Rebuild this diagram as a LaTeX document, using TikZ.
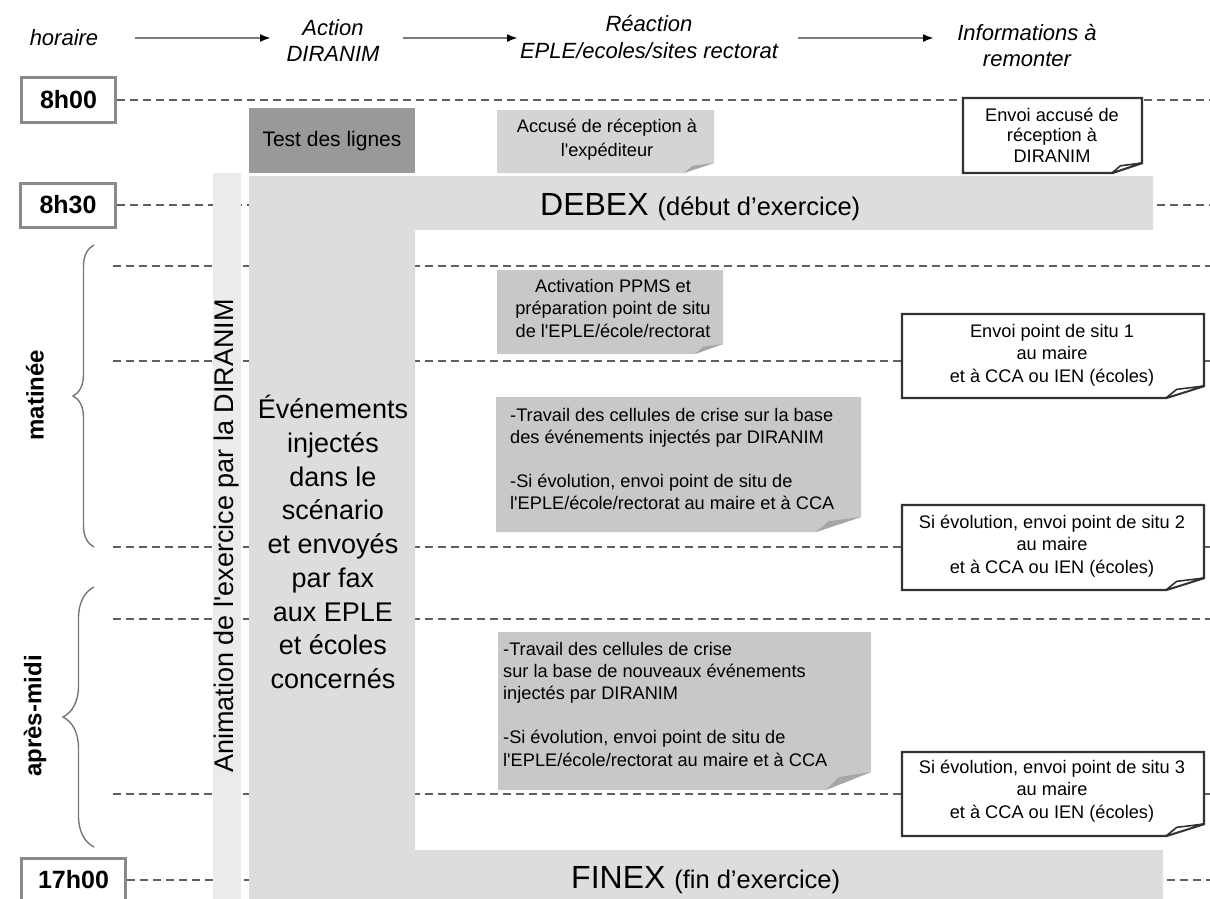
\documentclass[tikz,border=0pt]{standalone}
\usepackage{fontspec}
\newfontfamily\arial{Liberation Sans}
\usetikzlibrary{arrows.meta,decorations.pathreplacing}
\definecolor{barA}{HTML}{DDDDDD}
\definecolor{barB}{HTML}{EBEBEB}
\definecolor{boxG}{HTML}{C8C8C8}
\definecolor{boxL}{HTML}{D4D4D4}
\definecolor{boxD}{HTML}{999999}
\definecolor{dashc}{HTML}{5F5F5F}
\definecolor{foldc}{HTML}{A6A6A6}
\definecolor{tgray}{HTML}{8A8A8A}
\definecolor{arrgray}{HTML}{7A7A7A}
\definecolor{bracec}{HTML}{777777}
% folded-corner box: #1 box style, #2 flap style, #3 x1, #4 y1, #5 x2, #6 y2, #7 fold width, #8 fold height
\newcommand\pfold[8]{%
  \path[#1] (#3,#4) -- (#5,#4) -- (#5,#6-#8) -- (#5-#7,#6) -- (#3,#6) -- cycle;
  \path[#2] (#5-#7,#6) -- (#5-0.72*#7,#6-0.72*#8) -- (#5,#6-#8) -- cycle;
}
\tikzset{
  hdr/.style={align=center, inner sep=0pt, font=\arial\itshape\fontsize{22}{26.5}\selectfont},
  timer/.style={draw=tgray, line width=3pt, fill=white, minimum height=44pt, inner sep=0pt,
    font=\arial\bfseries\fontsize{25}{30}\selectfont},
  dl/.style={draw=dashc, line width=1.2pt, dash pattern=on 8pt off 5pt},
  hdrarrow/.style={draw=arrgray, line width=2pt, -{Latex[length=11pt,width=8pt,color=black]}},
  boxtxt/.style={align=center, inner sep=0pt, font=\arial\fontsize{18.2}{22.5}\selectfont},
  boxtxtl/.style={align=left, inner sep=0pt, anchor=west, font=\arial\fontsize{18.2}{22.2}\selectfont},
  graybox/.style={fill=boxG},
  grayflap/.style={fill=foldc},
  whitebox/.style={fill=white, draw=black!80, line width=2.4pt, line join=miter},
  whiteflap/.style={fill=white, draw=black!80, line width=1.6pt, line join=round},
  bracestyle/.style={draw=bracec, line width=1.4pt, decorate, decoration={brace, amplitude=#1, aspect=0.5}},
  sidelabel/.style={rotate=90, inner sep=0pt, font=\arial\bfseries\fontsize{24}{28}\selectfont},
}
\begin{document}
\begin{tikzpicture}[x=1pt,y=-1pt]
\useasboundingbox (0,0) rectangle (1210,899);
\coordinate (R) at (1212,0);

% header
\node[hdr] (horaire) at (64,38) {horaire};
\node[hdr] (action) at (333,40.5) {Action\\DIRANIM};
\node[hdr] (reaction) at (649,37) {Réaction\\EPLE/ecoles/sites rectorat};
\node[hdr] (infos) at (1027,45.5) {Informations à\\remonter};
\coordinate (a1s) at (135,38); \coordinate (a1e) at (271,38);
\coordinate (a2s) at (403,38); \coordinate (a2e) at (518,38);
\coordinate (a3s) at (798,38); \coordinate (a3e) at (934,38);
\draw[hdrarrow] (a1s) -- (a1e);
\draw[hdrarrow] (a2s) -- (a2e);
\draw[hdrarrow] (a3s) -- (a3e);

% time boxes
\node[timer, minimum width=94pt] (t800) at (68.5,100) {8h00};
\node[timer, minimum width=95pt] (t830) at (68,205) {8h30};
\node[timer, minimum width=104pt] (t1700) at (73.5,880) {17h00};

% dashed lines
\draw[dl] (t800.east) -- (t800.east -| R);
\draw[dl] (t830.east) -- (t830.east -| R);
\draw[dl] (t1700.east) -- (t1700.east -| R);
\coordinate (m1) at (113,266);
\coordinate (m2) at (113,361);
\coordinate (m3) at (113,547);
\coordinate (m4) at (113,619);
\coordinate (m5) at (113,794);
\foreach \m in {m1,m2,m3,m4,m5} \draw[dl] (\m) -- (\m -| R);

% braces
\coordinate (b1s) at (94,547); \coordinate (b1e) at (94,245);
\coordinate (b2s) at (94,847); \coordinate (b2e) at (94,587);
\draw[bracestyle=21pt] (b1s) -- (b1e);
\draw[bracestyle=31pt] (b2s) -- (b2e);
\node[sidelabel] (matinee) at (35,395) {matinée};
\node[sidelabel] (apres) at (35,716) {après-midi};

% big bars
\fill[barA] (249,176) -- (1153,176) -- (1153,230) -- (415,230) -- (415,850)
  -- (1163,850) -- (1163,899) -- (249,899) -- cycle;
\fill[barB] (213,173) rectangle (241,899);
\fill[boxD] (249,108) rectangle (415,173);

% gray boxes
\pfold{fill=boxL}{grayflap}{497}{110}{714}{173}{30}{10}
\pfold{graybox}{grayflap}{497}{270}{723}{354}{28}{10}
\pfold{graybox}{grayflap}{496}{397}{861}{532}{45}{15}
\pfold{graybox}{grayflap}{498}{632}{871}{790}{45}{18}

% white boxes
\pfold{whitebox}{whiteflap}{963}{98}{1142}{173}{30}{10}
\pfold{whitebox}{whiteflap}{902}{314}{1204}{398}{38}{12}
\pfold{whitebox}{whiteflap}{902}{505}{1204}{590}{38}{12}
\pfold{whitebox}{whiteflap}{902}{752}{1204}{836}{38}{12}

% texts
\node[inner sep=0pt, font=\arial\fontsize{21}{25}\selectfont] (test) at (332,141) {Test des lignes};
\node[boxtxt, font=\arial\fontsize{18.2}{24}\selectfont] (accuse) at (607,140) {Accusé de réception à\\l'expéditeur};
\node[boxtxt, font=\arial\fontsize{18.2}{20.5}\selectfont] (envacc) at (1052,135) {Envoi accusé de\\réception à\\DIRANIM};
\node[boxtxt] (activ) at (613,308) {Activation PPMS et\\préparation point de situ\\de l'EPLE/école/rectorat};
\node[boxtxtl] (trav1) at (510,459) {-Travail des cellules de crise sur la base\\des événements injectés par DIRANIM\\[22.2pt]-Si évolution, envoi point de situ de\\l'EPLE/école/rectorat au maire et à CCA};
\node[boxtxtl] (trav2) at (503,704) {-Travail des cellules de crise\\sur la base de nouveaux événements\\injectés par DIRANIM\\[22.2pt]-Si évolution, envoi point de situ de\\l'EPLE/école/rectorat au maire et à CCA};
\node[boxtxt] (sit1) at (1052,355) {Envoi point de situ 1\\au maire\\et à CCA ou IEN (écoles)};
\node[boxtxt] (sit2) at (1052,546) {Si évolution, envoi point de situ 2\\au maire\\et à CCA ou IEN (écoles)};
\node[boxtxt] (sit3) at (1052,791) {Si évolution, envoi point de situ 3\\au maire\\et à CCA ou IEN (écoles)};

\node[anchor=base west, inner sep=0pt, font=\arial] (debex) at (540,215)
  {{\fontsize{32}{36}\selectfont DEBEX }{\fontsize{25.5}{30}\selectfont (début d’exercice)}};
\node[anchor=base west, inner sep=0pt, font=\arial] (finex) at (571,888)
  {{\fontsize{32}{36}\selectfont FINEX }{\fontsize{25.5}{30}\selectfont (fin d’exercice)}};

\node[align=center, inner sep=0pt, font=\arial\fontsize{27}{33.75}\selectfont] (events) at (333,542)
  {Événements\\injectés\\dans le\\scénario\\et envoyés\\par fax\\aux EPLE\\et écoles\\concernés};
\node[rotate=90, inner sep=0pt, font=\arial\fontsize{27}{32}\selectfont] (anim) at (227,536)
  {Animation de l'exercice par la DIRANIM};
\end{tikzpicture}
\end{document}
